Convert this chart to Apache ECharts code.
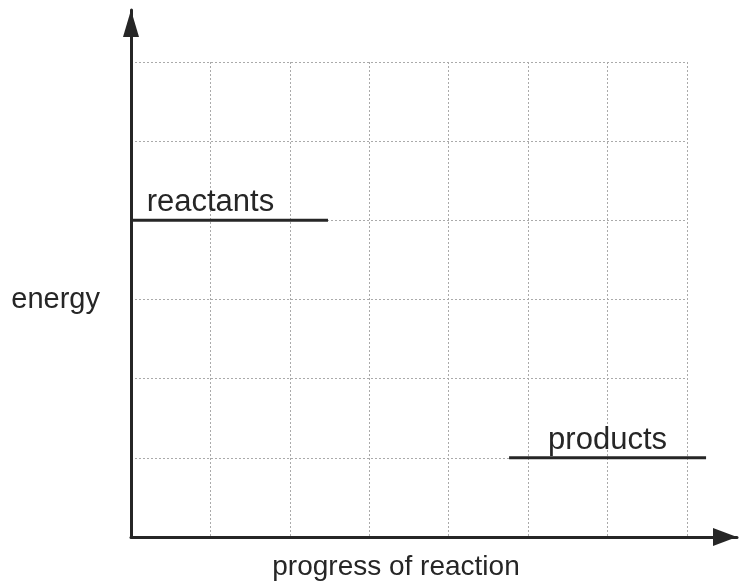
<!DOCTYPE html>
<html>
<head>
<meta charset="utf-8">
<script src="https://cdn.jsdelivr.net/npm/echarts@6/dist/echarts.min.js"></script>
<style>
html,body{margin:0;padding:0;background:#fff;}
#chart{width:739px;height:587px;}
</style>
</head>
<body>
<div id="chart"></div>
<script>
// Data
const xAxisName = 'progress of reaction';
const yAxisName = 'energy';
const levelNames = ['reactants', 'products'];
const levelEnergy = [4, 1];
const levelStart = [0, 4.76];
const levelEnd = [2.48, 7.24];
const labelX = [1, 6];
const gridXMax = 7;
const gridYMax = 6;

const W = 739, H = 587;
const G0 = {left: 131, right: 52, top: 62, bottom: 50};
const G1 = {left: 131, right: 2, top: 10, bottom: 50};
// outer (arrow) axes share the same unit scale as the grid
const outerXMax = gridXMax * (W - G1.left - G1.right) / (W - G0.left - G0.right);
const outerYMax = gridYMax * (H - G1.top - G1.bottom) / (H - G0.top - G0.bottom);

const chart = echarts.init(document.getElementById('chart'), null, {renderer: 'canvas'});
const fontFamily = '"Liberation Sans", Arial, Helvetica, sans-serif';
const ink = '#262626';

const series = [];
levelNames.forEach((name, i) => {
  series.push({
    name: name,
    type: 'line',
    xAxisIndex: 1, yAxisIndex: 1,
    symbol: 'none',
    silent: true,
    lineStyle: {color: ink, width: 3},
    data: [[levelStart[i], levelEnergy[i]], [levelEnd[i], levelEnergy[i]]],
    z: 5
  });
  series.push({
    name: name + ' label',
    type: 'scatter',
    xAxisIndex: 1, yAxisIndex: 1,
    symbolSize: 0,
    silent: true,
    itemStyle: {opacity: 1},
    data: [[labelX[i], levelEnergy[i]]],
    label: {
      show: true, position: 'top', distance: 2,
      formatter: name,
      color: ink, fontSize: 31, fontFamily: fontFamily
    },
    z: 6
  });
});

chart.setOption({
  animation: false,
  backgroundColor: '#fff',
  grid: [G0, G1],
  xAxis: [
    {
      gridIndex: 0, type: 'value', min: 0, max: gridXMax, interval: 1,
      axisLine: {show: false}, axisTick: {show: false}, axisLabel: {show: false},
      splitLine: {show: true, lineStyle: {color: '#aaaaaa', width: 1, type: [2, 2]}},
      name: xAxisName, nameLocation: 'middle', nameGap: 16,
      nameTextStyle: {color: ink, fontSize: 28, fontFamily: fontFamily, padding: [0, 26, 0, 0]}
    },
    {
      gridIndex: 1, type: 'value', min: 0, max: outerXMax,
      axisLine: {show: true, symbol: ['none', 'triangle'], symbolSize: [18, 24], symbolOffset: [0, -12],
        lineStyle: {color: ink, width: 3}},
      axisTick: {show: false}, axisLabel: {show: false}, splitLine: {show: false}
    }
  ],
  yAxis: [
    {
      gridIndex: 0, type: 'value', min: 0, max: gridYMax, interval: 1,
      axisLine: {show: false}, axisTick: {show: false}, axisLabel: {show: false},
      splitLine: {show: true, lineStyle: {color: '#aaaaaa', width: 1, type: [2, 2]}},
      name: yAxisName, nameLocation: 'middle', nameRotate: 0, nameGap: 31,
      nameTextStyle: {color: ink, fontSize: 29, fontFamily: fontFamily}
    },
    {
      gridIndex: 1, type: 'value', min: 0, max: outerYMax,
      axisLine: {show: true, symbol: ['none', 'triangle'], symbolSize: [16, 27], symbolOffset: [0, -13.5],
        lineStyle: {color: ink, width: 3}},
      axisTick: {show: false}, axisLabel: {show: false}, splitLine: {show: false}
    }
  ],
  series: series
});
</script>
</body>
</html>
